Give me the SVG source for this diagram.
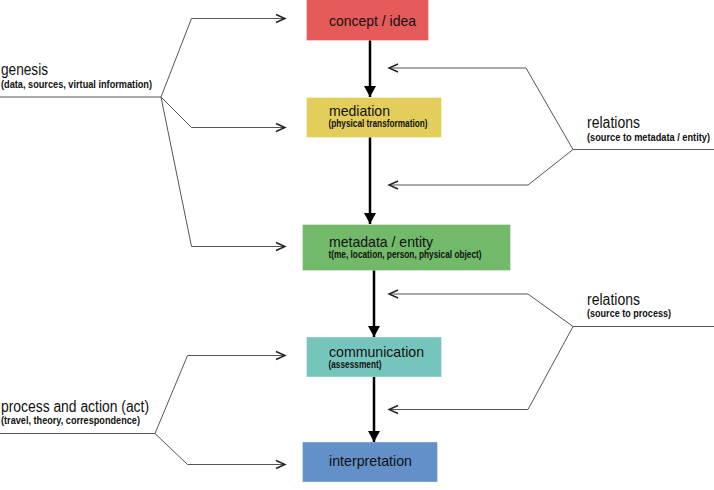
<svg xmlns="http://www.w3.org/2000/svg" width="714" height="490" viewBox="0 0 714 490">
  <defs>
    <!-- solid black head for the main flow (drawn pointing along +x, turned by orient) -->
    <marker id="flow" viewBox="0 0 11 12" refX="11" refY="6" markerWidth="11" markerHeight="12" markerUnits="userSpaceOnUse" orient="auto">
      <path d="M0,0 L11,6 L0,12 Z" fill="#000"/>
    </marker>
    <style>
      .box { stroke: #ffffff; stroke-opacity: 0.35; stroke-width: 1; }
      .title { font-family: "Liberation Sans Narrow", "Liberation Sans", Arial, sans-serif; font-size: 15px; fill: #111; }
      .sub { font-family: "Liberation Sans Narrow", "Liberation Sans", Arial, sans-serif; font-size: 10px; font-weight: bold; fill: #111; }
      .side { font-family: "Liberation Sans Narrow", "Liberation Sans", Arial, sans-serif; font-size: 16px; fill: #111; }
      .flow { stroke: #000; stroke-width: 2.5; fill: none; }
      .wire { stroke: #555; stroke-width: 1; fill: none; }
      .chev { stroke: #222; stroke-width: 1.4; fill: none; stroke-linejoin: miter; }
    </style>
  </defs>

  <!-- main chain of boxes -->
  <g id="concept">
    <rect class="box" x="306.5" y="-1" width="122" height="41.5" fill="#e55b5a"/>
    <text class="title" x="329" y="26" textLength="87" lengthAdjust="spacingAndGlyphs">concept / idea</text>
  </g>
  <g id="mediation">
    <rect class="box" x="306.5" y="97.5" width="135" height="40" fill="#e3cd5b"/>
    <text class="title" x="329" y="116" textLength="61" lengthAdjust="spacingAndGlyphs">mediation</text>
    <text class="sub" x="328.5" y="127" textLength="99" lengthAdjust="spacingAndGlyphs">(physical transformation)</text>
  </g>
  <g id="metadata">
    <rect class="box" x="302.5" y="224.5" width="208" height="46" fill="#72ba6a"/>
    <text class="title" x="329" y="246.5" textLength="104" lengthAdjust="spacingAndGlyphs">metadata / entity</text>
    <text class="sub" x="328.5" y="258" textLength="153" lengthAdjust="spacingAndGlyphs">t(me, location, person, physical object)</text>
  </g>
  <g id="communication">
    <rect class="box" x="306.5" y="337" width="135" height="40" fill="#76c5bc"/>
    <text class="title" x="329" y="356.5" textLength="95" lengthAdjust="spacingAndGlyphs">communication</text>
    <text class="sub" x="328.5" y="368" textLength="53" lengthAdjust="spacingAndGlyphs">(assessment)</text>
  </g>
  <g id="interpretation">
    <rect class="box" x="302.5" y="442" width="135" height="40" fill="#6390c9"/>
    <text class="title" x="329" y="466" textLength="83" lengthAdjust="spacingAndGlyphs">interpretation</text>
  </g>

  <!-- side labels -->
  <g id="genesis">
    <text class="side" x="1" y="75" textLength="47" lengthAdjust="spacingAndGlyphs">genesis</text>
    <text class="sub" x="1" y="88" textLength="151" lengthAdjust="spacingAndGlyphs">(data, sources, virtual information)</text>
  </g>
  <g id="relations-entity">
    <text class="side" x="587" y="128" textLength="53" lengthAdjust="spacingAndGlyphs">relations</text>
    <text class="sub" x="587" y="140.5" textLength="123" lengthAdjust="spacingAndGlyphs">(source to metadata / entity)</text>
  </g>
  <g id="relations-process">
    <text class="side" x="587" y="305" textLength="53" lengthAdjust="spacingAndGlyphs">relations</text>
    <text class="sub" x="587" y="317" textLength="84" lengthAdjust="spacingAndGlyphs">(source to process)</text>
  </g>
  <g id="process">
    <text class="side" x="1" y="411.5" textLength="148" lengthAdjust="spacingAndGlyphs">process and action (act)</text>
    <text class="sub" x="1" y="423.5" textLength="139" lengthAdjust="spacingAndGlyphs">(travel, theory, correspondence)</text>
  </g>

  <g id="connectors">
    <!-- vertical flow -->
    <line class="flow" x1="370" y1="40.5" x2="370" y2="97" marker-end="url(#flow)"/>
    <line class="flow" x1="370" y1="137.5" x2="370" y2="224" marker-end="url(#flow)"/>
    <line class="flow" x1="374" y1="270.5" x2="374" y2="337" marker-end="url(#flow)"/>
    <line class="flow" x1="374" y1="377" x2="374" y2="442" marker-end="url(#flow)"/>

    <!-- genesis fan -->
    <polyline class="wire" points="0,97 161,97 191.5,18.5 285,18.5"/>
    <polyline class="wire" points="161,97 191.5,127.5 285,127.5"/>
    <polyline class="wire" points="161,97 191.5,246.5 285,246.5"/>
    <polyline class="chev" points="276,14.5 285,18.5 276,22.5"/>
    <polyline class="chev" points="276,123.5 285,127.5 276,131.5"/>
    <polyline class="chev" points="276,242.5 285,246.5 276,250.5"/>

    <!-- relations to metadata / entity -->
    <polyline class="wire" points="714,149.5 573,149.5 526,68 389,68"/>
    <polyline class="wire" points="573,149.5 528,185 389,185"/>
    <polyline class="chev" points="398,64 389,68 398,72"/>
    <polyline class="chev" points="398,181 389,185 398,189"/>

    <!-- relations to process -->
    <polyline class="wire" points="714,326.5 573,326.5 528,294 389,294"/>
    <polyline class="wire" points="573,326.5 528,409.5 389,409.5"/>
    <polyline class="chev" points="398,290 389,294 398,298"/>
    <polyline class="chev" points="398,405.5 389,409.5 398,413.5"/>

    <!-- process and action fan -->
    <polyline class="wire" points="0,433.5 155,433.5 187.5,355.5 285,355.5"/>
    <polyline class="wire" points="155,433.5 187.5,464.5 285,464.5"/>
    <polyline class="chev" points="276,351.5 285,355.5 276,359.5"/>
    <polyline class="chev" points="276,460.5 285,464.5 276,468.5"/>
  </g>
</svg>
